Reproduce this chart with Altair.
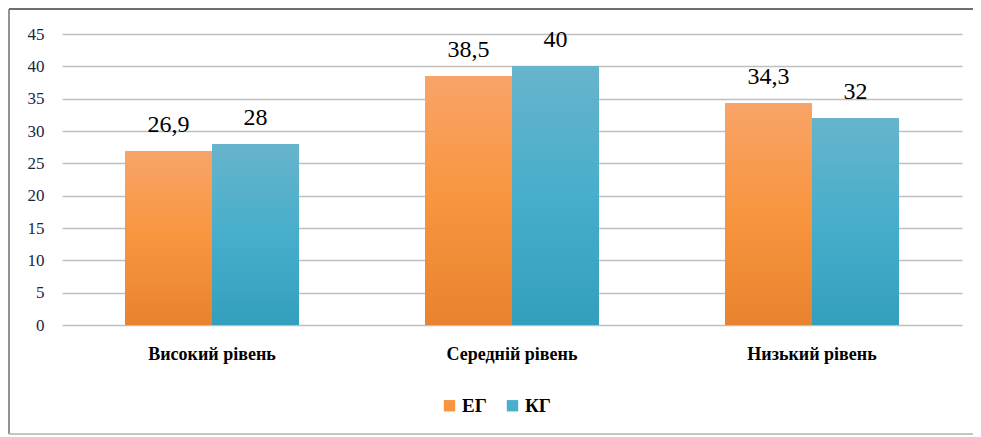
import altair as alt
import pandas as pd

categories = ["Високий рівень", "Середній рівень", "Низький рівень"]
groups = ["ЕГ", "КГ"]
eg_values = [26.9, 38.5, 34.3]
kg_values = [28, 40, 32]
eg_labels = ["26,9", "38,5", "34,3"]
kg_labels = ["28", "40", "32"]
y_ticks = [0, 5, 10, 15, 20, 25, 30, 35, 40, 45]

rows = []
for c, v, l in zip(categories, eg_values, eg_labels):
    rows.append({"category": c, "group": "ЕГ", "value": v, "label": l})
for c, v, l in zip(categories, kg_values, kg_labels):
    rows.append({"category": c, "group": "КГ", "value": v, "label": l})
df = pd.DataFrame(rows)

SERIF = "Liberation Serif, Times New Roman, DejaVu Serif, serif"

x_enc = alt.X(
    "category:N", sort=categories, title=None,
    scale=alt.Scale(paddingInner=0.42, paddingOuter=0.21),
    axis=alt.Axis(labelAngle=0, labelFont=SERIF, labelFontSize=18, labelFontWeight="bold",
                  labelColor="#000000", labelPadding=20, domain=False, ticks=False),
)
xo_enc = alt.XOffset("group:N", scale=alt.Scale(domain=groups))
y_enc = alt.Y(
    "value:Q", title=None,
    scale=alt.Scale(domain=[0, 45], nice=False),
    axis=alt.Axis(values=y_ticks, labelFont=SERIF, labelFontSize=17, labelColor="#1c2540",
                  labelPadding=18, domain=False, ticks=False, grid=True,
                  gridColor="#bfbfbf", gridWidth=1.5),
)

base = alt.Chart(df).encode(x=x_enc, xOffset=xo_enc, y=y_enc)

bars = base.mark_bar().encode(
    color=alt.Color(
        "group:N", scale=alt.Scale(domain=groups, range=["#F7963F", "#4BAFCB"]),
        legend=alt.Legend(title=None, orient="none", legendX=378, legendY=362,
                          direction="horizontal", symbolType="square", symbolSize=130,
                          symbolStrokeWidth=0, labelFont=SERIF, labelFontSize=19,
                          labelFontWeight="bold", labelColor="#000000", columnPadding=16,
                          labelOffset=3),
    )
)

eg_grad = alt.Gradient(gradient="linear", x1=0, y1=0, x2=0, y2=1,
                       stops=[alt.GradientStop(offset=0, color="#F8A468"),
                              alt.GradientStop(offset=0.5, color="#F8953F"),
                              alt.GradientStop(offset=1, color="#E9822E")])
kg_grad = alt.Gradient(gradient="linear", x1=0, y1=0, x2=0, y2=1,
                       stops=[alt.GradientStop(offset=0, color="#67B4CC"),
                              alt.GradientStop(offset=0.5, color="#47AECB"),
                              alt.GradientStop(offset=1, color="#339FBD")])

eg_bars = base.mark_bar(fill=eg_grad).transform_filter(alt.datum.group == "ЕГ")
kg_bars = base.mark_bar(fill=kg_grad).transform_filter(alt.datum.group == "КГ")

texts = base.mark_text(font=SERIF, fontSize=24, color="#000000", baseline="bottom", dy=-14).encode(
    text="label:N"
)

frame_df = pd.DataFrame({"k": [0]})
top_line = alt.Chart(frame_df).mark_rule(color="#6e6e6e", strokeWidth=2).encode(
    x=alt.value(-53), x2=alt.value(915), y=alt.value(-25))
left_line = alt.Chart(frame_df).mark_rule(color="#6e6e6e", strokeWidth=1.5).encode(
    x=alt.value(-53), y=alt.value(-25), y2=alt.value(400))
bottom_line = alt.Chart(frame_df).mark_rule(color="#b0b0b0", strokeWidth=1.5).encode(
    x=alt.value(-53), x2=alt.value(915), y=alt.value(400))

chart = alt.layer(bars, eg_bars, kg_bars, texts, top_line, left_line, bottom_line).properties(
    width=900, height=291,
    autosize=alt.AutoSizeParams(type="none"),
    padding={"left": 54, "top": 26, "right": 11, "bottom": 110},
    background="white",
).configure_view(stroke=None)

chart.save("out.html", embed_options={"renderer": "svg", "actions": False})
